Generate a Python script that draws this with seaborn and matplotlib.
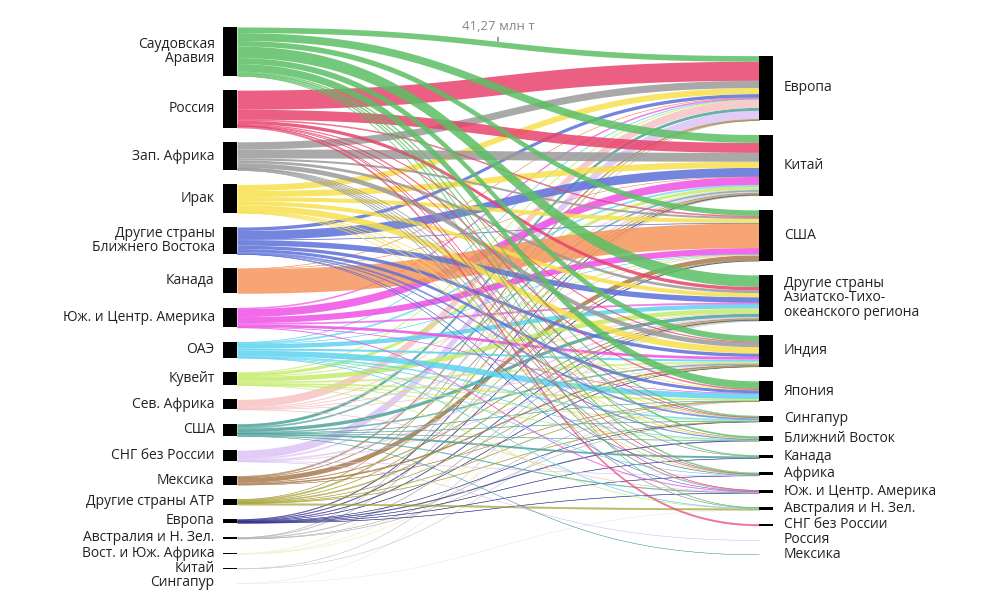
import numpy as np
import seaborn as sns
import matplotlib.pyplot as plt

sns.set_theme(style="white")
plt.rcParams["font.family"] = ["Open Sans", "DejaVu Sans"]

# exporters (left column)
sources = ["Саудовская\nАравия", "Россия", "Зап. Африка", "Ирак",
           "Другие страны\nБлижнего Востока", "Канада", "Юж. и Центр. Америка",
           "ОАЭ", "Кувейт", "Сев. Африка", "США", "СНГ без России", "Мексика",
           "Другие страны АТР", "Европа", "Австралия и Н. Зел.",
           "Вост. и Юж. Африка", "Китай", "Сингапур"]

# importers (right column)
targets = ["Европа", "Китай", "США",
           "Другие страны\nАзиатско-Тихо-\nокеанского региона", "Индия",
           "Япония", "Сингапур", "Ближний Восток", "Канада", "Африка",
           "Юж. и Центр. Америка", "Австралия и Н. Зел.", "СНГ без России",
           "Россия", "Мексика"]

# flows, млн т, in the order of targets
saudi_arabia = [41.27, 58, 40, 85, 44, 55, 8, 12, 5, 8, 0, 2, 0, 0, 0]
russia = [140, 73, 8, 25, 5, 7, 2, 0, 0, 1, 2, 0, 11, 0, 0]
west_africa = [53, 65, 15, 20, 35, 0, 3, 2, 2, 5, 6, 2, 0, 0, 0]
iraq = [44, 45, 30, 30, 46, 2, 3, 5, 0, 2, 0, 0, 0, 0, 0]
other_middle_east = [25, 65, 3, 40, 25, 22, 10, 5, 0, 2, 1, 0, 0, 0, 0]
canada = [2, 1, 180, 0, 0, 0, 0, 0, 0, 0, 0, 0, 0, 0, 0]
sc_america = [8, 58, 45, 10, 20, 1, 0, 0, 0, 0, 4, 0, 0, 0, 0]
uae = [3, 10, 1, 32, 15, 42, 8, 2, 0, 1, 0, 3, 0, 0, 0]
kuwait = [5, 23, 4, 35, 10, 12, 3, 3, 0, 0, 0, 1, 0, 0, 0]
north_africa = [58, 5, 3, 3, 2, 0, 0, 0, 0, 0, 2, 0, 0, 0, 0]
usa = [22, 10, 0, 25, 8, 2, 2, 1, 14, 0, 5, 0, 0, 0, 0.2]
cis = [60, 10, 0, 8, 2, 0, 0, 0, 0, 1, 0, 0, 0, 1.5, 0]
mexico = [10, 3, 35, 4, 12, 1, 0, 0, 0, 0, 0, 0, 0, 0, 0]
other_apac = [2, 10, 3, 8, 2, 3, 3, 0, 0, 0, 0, 11, 0, 0, 0]
europe = [0, 5, 5, 4, 2, 0, 1, 5, 2, 2, 2, 0, 0, 0, 0]
australasia = [0.5, 3, 0, 5, 0, 1, 1, 0, 0, 0, 0, 0, 0, 0, 0]
es_africa = [0, 4, 0, 1, 2, 0, 0, 0, 0, 0, 0, 0, 0, 0, 0]
china = [0, 0, 0, 2, 0, 1, 0, 0, 0, 0, 0, 0, 0, 0, 0]
singapore = [0, 0, 0, 0.5, 0, 0, 0, 0, 0, 0, 0, 0.5, 0, 0, 0]

colors = ["#5cbf64", "#e8436c", "#9a9a9a", "#f7e04c", "#5b70d8", "#f6955c",
          "#ee50e6", "#5dd4ef", "#c6ec6c", "#f7c2c4", "#4fa39b", "#dcc2f6",
          "#a97a4d", "#a6a033", "#2d2d88", "#b4b4b4", "#f2f0c4", "#cccccc",
          "#e3eef0"]

flows = np.array([saudi_arabia, russia, west_africa, iraq, other_middle_east,
                  canada, sc_america, uae, kuwait, north_africa, usa, cis,
                  mexico, other_apac, europe, australasia, es_africa, china,
                  singapore], dtype=float)

out_tot = flows.sum(axis=1)
in_tot = flows.sum(axis=0)
pad = 105.0
H = out_tot.sum() + pad * (len(sources) - 1)
H_right = in_tot.sum() + pad * (len(targets) - 1)

src_top = np.concatenate([[0], np.cumsum(out_tot + pad)[:-1]])
dst_top = np.concatenate([[0], np.cumsum(in_tot + pad)[:-1]]) + (H - H_right) / 2

fig = plt.figure(figsize=(10, 6), dpi=100)
ax = fig.add_axes([0.223, 1 - 583 / 600, 0.55, 556 / 600])
ax.set_xlim(0, 1)
ax.set_ylim(H, 0)
ax.axis("off")

nw = 14 / 550
x0, x1 = nw, 1 - nw
t = np.linspace(0, 1, 80)
xs = x0 + (x1 - x0) * (1.5 * t * (1 - t) + t ** 3)
s = 3 * t ** 2 - 2 * t ** 3

# stacking offsets: at source by target order, at target by source order
src_off = src_top[:, None] + np.cumsum(flows, axis=1) - flows
dst_off = dst_top[None, :] + np.cumsum(flows, axis=0) - flows

px_per_unit = 556 / H
for i in reversed(range(len(sources))):
    for j in range(len(targets)):
        v = flows[i, j]
        if v <= 0:
            continue
        a0, b0 = src_off[i, j], dst_off[i, j]
        top = a0 + (b0 - a0) * s
        bot = top + v
        thin = v * px_per_unit < 1.5
        ax.fill_between(xs, top, bot, color=colors[i],
                        alpha=0.7 if thin else 0.85,
                        linewidth=0.3 if thin else 0, zorder=1)

for i, name in enumerate(sources):
    ax.add_patch(plt.Rectangle((0, src_top[i]), nw, out_tot[i], color="black",
                               lw=0, zorder=3))
    ax.annotate(name, (0, src_top[i] + out_tot[i] / 2), xytext=(-6, 0),
                textcoords="offset points", ha="right", va="center",
                fontsize=10, color="#222222", linespacing=0.95)

for j, name in enumerate(targets):
    ax.add_patch(plt.Rectangle((1 - nw, dst_top[j]), nw, in_tot[j],
                               color="black", lw=0, zorder=3))
    ax.annotate(name, (1, dst_top[j] + in_tot[j] / 2), xytext=(8, 0),
                textcoords="offset points", ha="left", va="center",
                fontsize=10, color="#222222", linespacing=0.95)

# hover-style label on the Saudi Arabia -> Europe link
y_mid = (src_off[0, 0] + dst_off[0, 0]) / 2
ax.annotate("41,27 млн т", (0.5, y_mid), xytext=(0, 11),
            textcoords="offset points", ha="center", va="center",
            fontsize=9.5, color="#888888",
            arrowprops=dict(arrowstyle="-", color="#777777", lw=1,
                            shrinkA=1, shrinkB=0))

fig.savefig("out.png", dpi=100, facecolor="white")
